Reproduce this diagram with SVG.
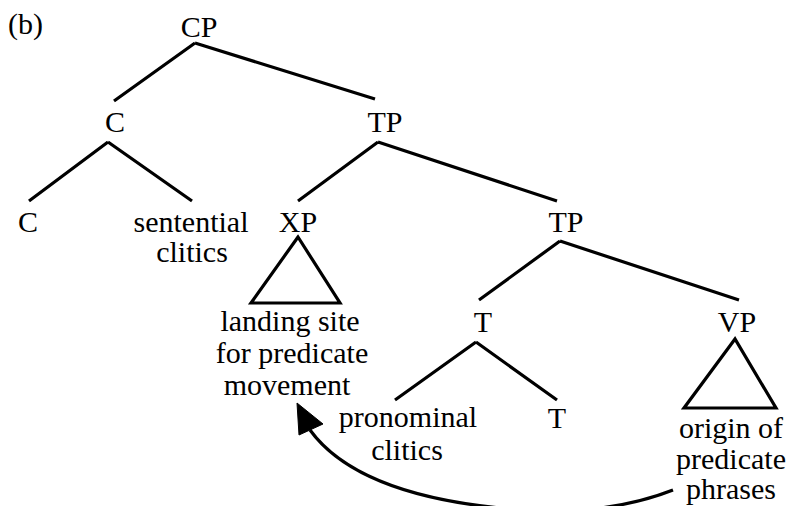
<svg xmlns="http://www.w3.org/2000/svg" width="787" height="506" viewBox="0 0 787 506">
<style>
text{font-family:"Liberation Serif","Times New Roman",serif;font-size:30px;fill:#000;text-anchor:middle}
.e{stroke:#000;stroke-width:3.2;fill:none;stroke-linecap:butt}
.tri{stroke:#000;stroke-width:3.2;fill:none;stroke-linejoin:miter}
</style>
<rect width="787" height="506" fill="#fff"/>
<text x="8" y="34" style="text-anchor:start">(b)</text>
<g id="connectors">
<path class="e" d="M195 43L114 101M195 43L375 99"/>
<path class="e" d="M108 142L29 201M108 142L192 201"/>
<path class="e" d="M378 142L298 201M378 142L557 201"/>
<path class="e" d="M560 241L479 300M560 241L739 300"/>
<path class="e" d="M476 342L395 400M476 342L557 400"/>
<path class="e" d="M673 490C612 514 540 514 500 508C420 500 345 478 310 430"/>
<polygon points="297,403 299,435 323,424" fill="#000" stroke="#000" stroke-width="1"/>
</g>
<g id="CP"><text x="199" y="37">CP</text></g>
<g id="C1"><text x="115" y="132">C</text></g>
<g id="TP1"><text x="385" y="132">TP</text></g>
<g id="C2"><text x="28" y="232">C</text></g>
<g id="sentential"><text x="191" y="232">sentential</text><text x="192" y="262">clitics</text></g>
<g id="XP"><text x="298" y="232">XP</text><polygon class="tri" points="298,237 251,303 340,303"/></g>
<g id="landing"><text x="290" y="331">landing site</text><text x="292" y="363">for predicate</text><text x="287" y="395">movement</text></g>
<g id="TP2"><text x="566" y="232">TP</text></g>
<g id="T1"><text x="483" y="332">T</text></g>
<g id="VP"><text x="737" y="332">VP</text><polygon class="tri" points="735,339 684,408 776,408"/></g>
<g id="pronominal"><text x="408" y="427">pronominal</text><text x="407" y="460">clitics</text></g>
<g id="T2"><text x="557" y="428">T</text></g>
<g id="origin"><text x="731" y="438">origin of</text><text x="731" y="469">predicate</text><text x="731" y="499">phrases</text></g>
</svg>
